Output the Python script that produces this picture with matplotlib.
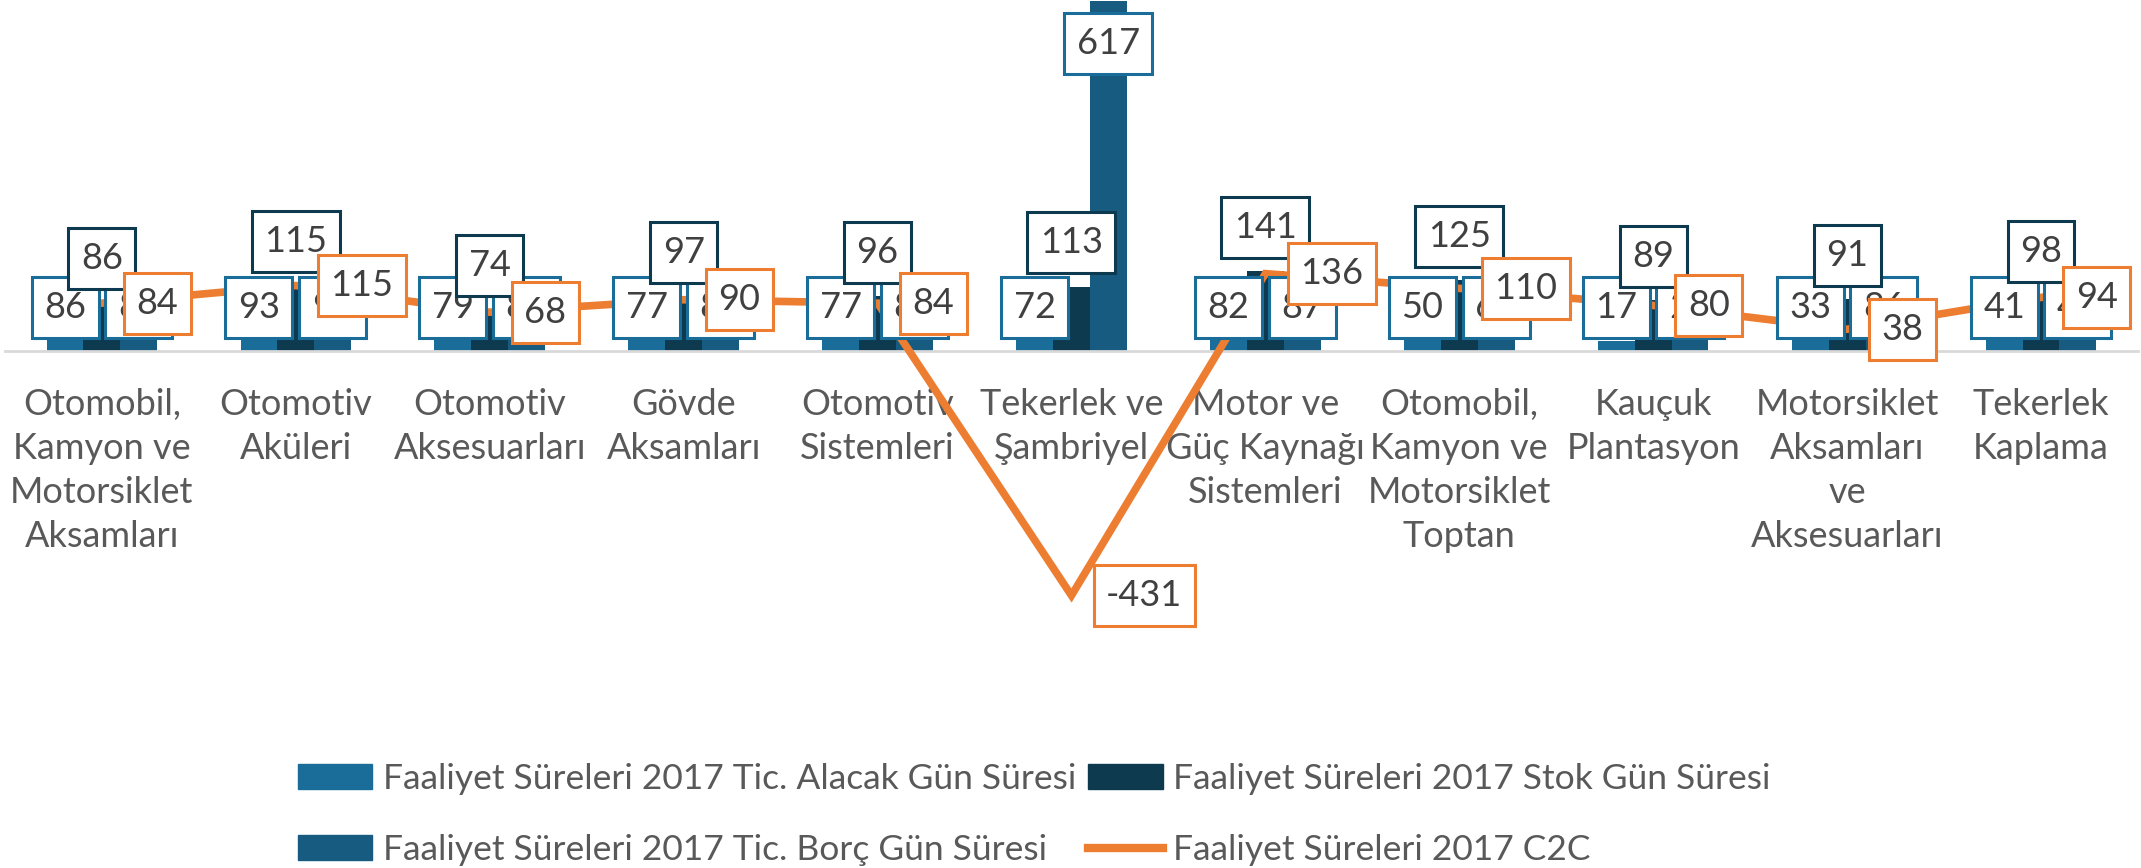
import numpy as np
import matplotlib
matplotlib.use("Agg")
import matplotlib.pyplot as plt
from matplotlib.patches import Patch
from matplotlib.lines import Line2D
from matplotlib.path import Path

categories = [
    "Otomobil,\nKamyon ve\nMotorsiklet\nAksamları",
    "Otomotiv\nAküleri",
    "Otomotiv\nAksesuarları",
    "Gövde\nAksamları",
    "Otomotiv\nSistemleri",
    "Tekerlek ve\nŞambriyel",
    "Motor ve\nGüç Kaynağı\nSistemleri",
    "Otomobil,\nKamyon ve\nMotorsiklet\nToptan",
    "Kauçuk\nPlantasyon",
    "Motorsiklet\nAksamları\nve\nAksesuarları",
    "Tekerlek\nKaplama",
]
alacak = [86, 93, 79, 77, 77, 72, 82, 50, 17, 33, 41]
stok = [86, 115, 74, 97, 96, 113, 141, 125, 89, 91, 98]
borc = [88, 93, 85, 84, 89, 617, 87, 65, 26, 86, 45]
c2c = [84, 115, 68, 90, 84, -431, 136, 110, 80, 38, 94]
series_names = [
    "Faaliyet Süreleri 2017 Tic. Alacak Gün Süresi",
    "Faaliyet Süreleri 2017 Stok Gün Süresi",
    "Faaliyet Süreleri 2017 Tic. Borç Gün Süresi",
    "Faaliyet Süreleri 2017 C2C",
]

c_al = "#1A6D98"
c_st = "#0E3A50"
c_bo = "#175C80"
c_or = "#ED7D31"
txt = "#595959"

plt.rcParams['font.family'] = ['Lato', 'DejaVu Sans']

fig = plt.figure(figsize=(21.41, 8.68), dpi=100)
ax = fig.add_axes([0.0023, 0.295, 0.9963, 0.705])

x = np.arange(len(categories))
w = 0.19
ax.bar(x - w, alacak, w, color=c_al, zorder=1)
ax.bar(x, stok, w, color=c_st, zorder=1)
ax.bar(x + w, borc, w, color=c_bo, zorder=1)
ax.plot(x, c2c, color=c_or, lw=5.5, zorder=3, solid_joinstyle='miter')

fs = 26


# excel-like label box: fixed height, a bit of side padding
def label_box(x0, y0, width, height, mutation_size):
    cx = x0 + width / 2
    cy = y0 + height / 2
    bw = width + 25
    bh = 61
    l, r = cx - bw / 2, cx + bw / 2
    b, t = cy - bh / 2, cy + bh / 2
    return Path([(l, b), (r, b), (r, t), (l, t), (l, b)],
                [Path.MOVETO, Path.LINETO, Path.LINETO, Path.LINETO, Path.CLOSEPOLY])


def box(col):
    return dict(boxstyle=label_box, fc='white', ec=col, lw=2.2)


for i in range(len(x)):
    ax.text(x[i] - w, max(alacak[i] - 75, 77), str(alacak[i]), ha='center', va='center',
            fontsize=fs, color='#404040', bbox=box(c_al), zorder=5)
for i in range(len(x)):
    ax.text(x[i] + w, max(borc[i] - 75, 77), str(borc[i]), ha='center', va='center',
            fontsize=fs, color='#404040', bbox=box(c_al), zorder=6)
for i in range(len(x)):
    ax.text(x[i], stok[i] + 77, str(stok[i]), ha='center', va='center',
            fontsize=fs, color='#404040', bbox=box(c_st), zorder=7)
for i in range(len(x)):
    ax.annotate(str(c2c[i]), (x[i], c2c[i]), xytext=(25, 0), textcoords='offset points',
                ha='left', va='center', fontsize=fs, color='#404040', bbox=box(c_or), zorder=8)

ax.set_xlim(-0.5, 10.5)
ax.set_ylim(-460, 618)
for s in ['top', 'left', 'right']:
    ax.spines[s].set_visible(False)
ax.spines['bottom'].set_position(('data', 0))
ax.spines['bottom'].set_color('#D9D9D9')
ax.spines['bottom'].set_linewidth(2)
ax.set_yticks([])
ax.set_xticks(x)
ax.set_xticklabels(categories, fontsize=fs, color=txt, linespacing=1.4)
ax.tick_params(axis='x', length=0, pad=27)
ax.patch.set_alpha(0)

handles = [Patch(color=c_al), Patch(color=c_bo), Patch(color=c_st),
           Line2D([0], [0], color=c_or, lw=6)]
labels = [series_names[0], series_names[2], series_names[1], series_names[3]]
fig.legend(handles, labels, ncol=2, loc='upper left', bbox_to_anchor=(0.139, 0.121),
           frameon=False, fontsize=25.5, handlelength=2.1, handleheight=0.7,
           handletextpad=0.3, columnspacing=0.35, labelspacing=1.1,
           borderpad=0, borderaxespad=0, labelcolor=txt)

fig.savefig("out.png", dpi=100)
